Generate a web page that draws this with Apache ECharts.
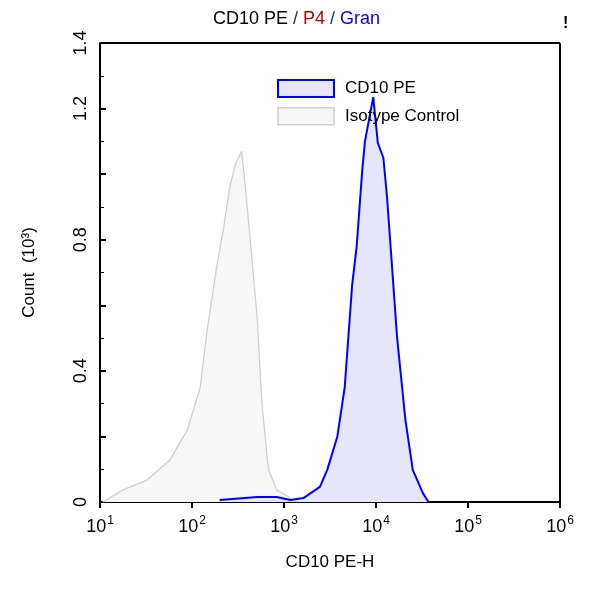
<!DOCTYPE html><html><head><meta charset="utf-8">
<script src="https://cdn.jsdelivr.net/npm/echarts@6/dist/echarts.min.js"></script>
<style>html,body{margin:0;background:#fff}#c{width:593px;height:600px}</style></head><body><div id="c"></div>
<script>
const isoLog=[1.03,1.25,1.51,1.76,1.95,2.09,2.16,2.27,2.34,2.41,2.47,2.54,2.58,2.63,2.71,2.76,2.83,2.92,3.07,3.14];
const isoCount=[0,0.037,0.067,0.128,0.22,0.35,0.515,0.72,0.83,0.96,1.03,1.07,0.96,0.81,0.555,0.30,0.10,0.037,0.012,0];
const cdLog=[2.30,2.71,2.92,3.07,3.21,3.39,3.47,3.58,3.66,3.74,3.79,3.85,3.88,3.92,3.97,4.02,4.08,4.12,4.23,4.32,4.40,4.51,4.57];
const cdCount=[0.006,0.015,0.015,0.006,0.012,0.046,0.098,0.2,0.35,0.66,0.78,1.01,1.10,1.16,1.235,1.095,1.05,0.93,0.50,0.25,0.098,0.027,0];
const xTicks=[1,2,3,4,5,6];
const yTicks=[0,0.4,0.8,1.2,1.4];
const zip=(a,b)=>a.map((v,i)=>[v,b[i]]);
const F='Liberation Sans';
const ch=echarts.init(document.getElementById('c'));
ch.setOption({
 animation:false,
 title:{text:'{a|CD10 PE} {s|/} {b|P4} {s|/} {c|Gran}',left:'center',top:5,textStyle:{fontWeight:'normal',rich:{a:{color:'#000',fontSize:18,fontFamily:F},s:{color:'#333',fontSize:18,fontFamily:F},b:{color:'#c00000',fontSize:18,fontFamily:F},c:{color:'#0000ff',fontSize:18,fontFamily:F}}}},
 grid:{left:100,right:33,top:43,bottom:98},
 legend:{orient:'vertical',left:272,top:74,itemWidth:56,itemHeight:17,itemGap:9,icon:'rect',textStyle:{fontSize:17,fontFamily:F,color:'#000',padding:[0,0,0,6]},
  data:[{name:'CD10 PE',itemStyle:{color:'#e6e6fa',borderColor:'#0000ff',borderWidth:2}},{name:'Isotype Control',itemStyle:{color:'#f6f6f6',borderColor:'#d0d0d0',borderWidth:1.5}}]},
 xAxis:{type:'value',min:1,max:6,interval:1,name:'CD10 PE-H',nameLocation:'middle',nameGap:52,nameTextStyle:{fontSize:17,color:'#000',fontFamily:F},
  axisLine:{lineStyle:{color:'#000',width:2}},axisTick:{lineStyle:{color:'#000',width:2},length:6},
  axisLabel:{color:'#000',margin:10,formatter:v=>'{b|10}{s|'+v+'}',rich:{b:{fontSize:18,fontFamily:F,color:'#000',padding:[6,0,0,0]},s:{fontSize:12,fontFamily:F,color:'#000',padding:[0,0,6,1]}}},splitLine:{show:false}},
 yAxis:{type:'value',min:0,max:1.4,interval:0.2,name:'Count  (10³)',nameLocation:'middle',nameGap:62,nameTextStyle:{fontSize:17,color:'#000',fontFamily:F},
  axisLine:{lineStyle:{color:'#000',width:2}},axisTick:{inside:true,lineStyle:{color:'#000',width:2},length:6},
  minorTick:{show:true,splitNumber:2,length:4,lineStyle:{color:'#000'}},
  axisLabel:{rotate:90,color:'#000',fontSize:18,fontFamily:F,margin:10,formatter:v=>{const r=Math.round(v*10)/10;return yTicks.includes(r)?(r===0?'0':r.toFixed(1)):'';}},splitLine:{show:false}},
 graphic:[{type:'text',left:563,top:16,style:{text:'!',fontSize:16,fontWeight:'bold',fill:'#000'}},
  {type:'line',shape:{x1:560,y1:43,x2:560,y2:502},style:{stroke:'#000',lineWidth:2}},
  {type:'line',shape:{x1:100,y1:43,x2:560,y2:43},style:{stroke:'#000',lineWidth:2}}],
 series:[
  {name:'Isotype Control',type:'line',data:zip(isoLog,isoCount),symbol:'none',lineStyle:{color:'#cfcfcf',width:1.3},itemStyle:{color:'#cfcfcf'},areaStyle:{color:'#f7f7f7',opacity:1}},
  {name:'CD10 PE',type:'line',data:zip(cdLog,cdCount),symbol:'none',lineStyle:{color:'#0000ff',width:2},itemStyle:{color:'#0000ff'},areaStyle:{color:'#e6e6fa',opacity:1}}
 ]
});
</script></body></html>
